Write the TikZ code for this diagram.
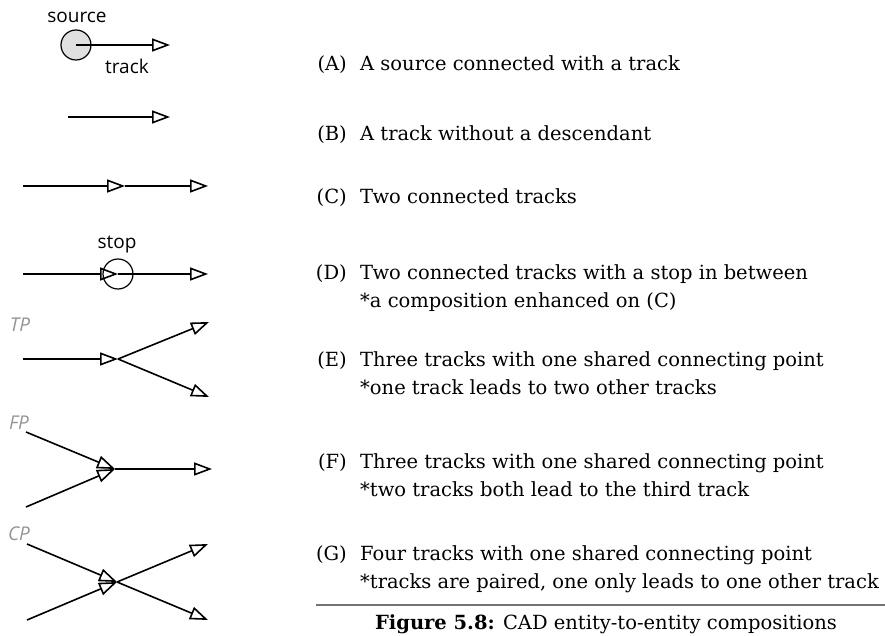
\documentclass[tikz,border=0pt]{standalone}
\usepackage{fontspec}
\usetikzlibrary{arrows.meta}
\newfontfamily\labelfont{Open Sans}
\newfontfamily\descfont{DejaVu Serif}

\tikzset{
  track/.style={line width=1.6pt,-{Triangle[open,length=18pt,width=13pt]}},
  lbl/.style={font=\labelfont\fontsize{19}{22}\selectfont,inner sep=0pt},
  tag/.style={font=\labelfont\itshape\fontsize{19}{22}\selectfont,text=black!42,inner sep=0pt},
  item/.style={font=\descfont\fontsize{19.5}{28}\selectfont,anchor=base east,inner sep=0pt},
  desc/.style={font=\descfont\fontsize{19.5}{28}\selectfont,anchor=base west,inner sep=0pt},
}

\begin{document}
\begin{tikzpicture}[x=1pt,y=-1pt]
  \useasboundingbox (0,0) rectangle (885,636);

  % (A) source with a track
  \node[draw,circle,line width=1.2pt,fill=black!12,minimum size=30pt,inner sep=0pt] (src) at (76,45) {};
  \coordinate (endA) at (170,45);
  \draw[track] (src.center) -- (endA);
  \node[lbl] (srclbl) at (77,17) {source};
  \node[lbl] (trklbl) at (127,66) {track};

  % (B)
  \coordinate (startB) at (68,117);
  \coordinate (endB) at (170,117);
  \draw[track] (startB) -- (endB);

  % (C)
  \coordinate (startC) at (23,186);
  \coordinate (midC) at (125,186);
  \coordinate (endC) at (208,186);
  \draw[track] (startC) -- (midC);
  \draw[track] (midC) -- (endC);

  % (D)
  \coordinate (startD) at (23,274);
  \node[draw,circle,line width=1.2pt,minimum size=30pt,inner sep=0pt] (stopD) at (118,274) {};
  \coordinate (endD) at (208,274);
  \draw[track] (startD) -- (stopD.center);
  \draw[track] (stopD.center) -- (endD);
  \node[lbl] (stoplbl) at (117,245) {stop};

  % (E)
  \node[tag] (tp) at (20,325) {TP};
  \coordinate (startE) at (23,359);
  \coordinate (jE) at (118,359);
  \coordinate (upE) at (209,322);
  \coordinate (downE) at (209,397);
  \draw[track] (startE) -- (jE);
  \draw[track] (jE) -- (upE);
  \draw[track] (jE) -- (downE);

  % (F)
  \node[tag] (fp) at (19,423) {FP};
  \coordinate (upF) at (26,432);
  \coordinate (downF) at (26,507);
  \coordinate (jF) at (115,469);
  \coordinate (endF) at (212,469);
  \draw[track] (upF) -- (jF);
  \draw[track] (downF) -- (jF);
  \draw[track] (jF) -- (endF);

  % (G)
  \node[tag] (cp) at (19,534) {CP};
  \coordinate (inG1) at (27,544);
  \coordinate (inG2) at (27,620);
  \coordinate (jG) at (117,582);
  \coordinate (outG1) at (208,544);
  \coordinate (outG2) at (208,620);
  \draw[track] (inG1) -- (jG);
  \draw[track] (inG2) -- (jG);
  \draw[track] (jG) -- (outG1);
  \draw[track] (jG) -- (outG2);

  % descriptions
  \node[item] (la) at (347,71) {(A)};
  \node[desc] (ta) at (360,71) {A source connected with a track};
  \node[item] (lb) at (347,141) {(B)};
  \node[desc] (tb) at (360,141) {A track without a descendant};
  \node[item] (lc) at (347,204) {(C)};
  \node[desc] (tc) at (360,204) {Two connected tracks};
  \node[item] (ld) at (347,279) {(D)};
  \node[desc] (td) at (360,279) {Two connected tracks with a stop in between};
  \node[desc] (td2) at (360,307) {*a composition enhanced on (C)};
  \node[item] (le) at (347,366) {(E)};
  \node[desc] (te) at (360,366) {Three tracks with one shared connecting point};
  \node[desc] (te2) at (360,394) {*one track leads to two other tracks};
  \node[item] (lf) at (347,468) {(F)};
  \node[desc] (tf) at (360,468) {Three tracks with one shared connecting point};
  \node[desc] (tf2) at (360,496) {*two tracks both lead to the third track};
  \node[item] (lg) at (347,560) {(G)};
  \node[desc] (tg) at (360,560) {Four tracks with one shared connecting point};
  \node[desc] (tg2) at (360,588) {*tracks are paired, one only leads to one other track};

  % caption
  \coordinate (ruleL) at (316,605);
  \coordinate (ruleR) at (885,605);
  \draw[black!55,line width=1.6pt] (ruleL) -- (ruleR);
  \node[font=\descfont\fontsize{19.5}{28}\selectfont,anchor=base,inner sep=0pt] (cap) at (606,629)
    {\textbf{Figure 5.8:} CAD entity-to-entity compositions};
\end{tikzpicture}
\end{document}
